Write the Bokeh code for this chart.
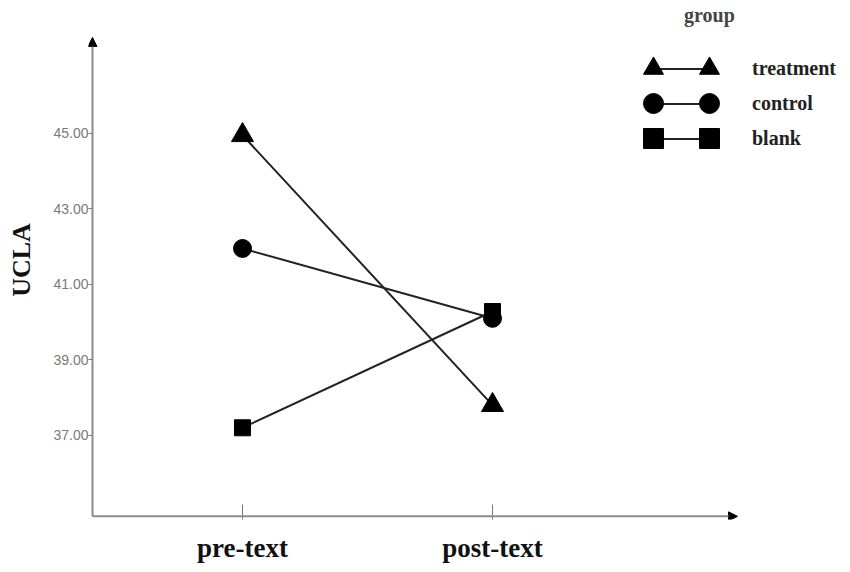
from bokeh.plotting import figure
from bokeh.models import (Legend, LegendItem, Arrow, NormalHead, NumeralTickFormatter,
                          FixedTicker, Range1d, ColumnDataSource)
from bokeh.embed import file_html
from bokeh.resources import INLINE

# ---- data ----
phases = ["pre-text", "post-text"]
phase_pos = [1, 2]
groups = ["treatment", "control", "blank"]
treatment = [44.95, 37.8]
control = [41.95, 40.1]
blank = [37.2, 40.28]
y_ticks = [37, 39, 41, 43, 45]

series = {"treatment": treatment, "control": control, "blank": blank}
markers = {"treatment": "triangle", "control": "circle", "blank": "square"}
msizes = {"treatment": 22, "control": 18, "blank": 16}

SERIF = "Liberation Serif"

# axis extents (data units) used for the arrowed axis lines
X0, X_ARROW = 0.4, 2.98
Y0, Y_ARROW = 34.854, 47.54

p = figure(width=850, height=572,
           x_range=Range1d(0.384, 3.432), y_range=Range1d(34.7705, 48.519),
           output_backend="svg", toolbar_location=None,
           min_border_left=88, min_border_right=0,
           min_border_top=0, min_border_bottom=53)
p.outline_line_color = None
p.grid.visible = False
p.background_fill_color = "white"

line_r = {}
scat_r = {}
for g in groups:
    src = ColumnDataSource(dict(x=phase_pos, y=series[g]))
    line_r[g] = p.line("x", "y", source=src, line_color="#222222", line_width=2)
    scat_r[g] = p.scatter("x", "y", source=src, marker=markers[g], size=msizes[g],
                          fill_color="black", line_color="black")

# ---- x axis ----
xa = p.xaxis[0]
xa.ticker = FixedTicker(ticks=phase_pos)
xa.major_label_overrides = {pos: lab for pos, lab in zip(phase_pos, phases)}
xa.major_label_text_font = SERIF
xa.major_label_text_font_size = "27px"
xa.major_label_text_font_style = "bold"
xa.major_label_text_color = "#111111"
xa.major_tick_in = 15
xa.major_tick_out = 0
xa.major_tick_line_color = "#777777"
xa.minor_tick_line_color = None
xa.axis_line_color = None
xa.major_label_standoff = 13

# ---- y axis ----
ya = p.yaxis[0]
ya.ticker = FixedTicker(ticks=y_ticks)
ya.formatter = NumeralTickFormatter(format="0.00")
ya.major_label_text_font = "Liberation Sans"
ya.major_label_text_font_size = "14px"
ya.major_label_text_color = "#7a7a7a"
ya.major_tick_in = 4
ya.major_tick_out = 0
ya.major_tick_line_color = "#777777"
ya.minor_tick_line_color = None
ya.axis_line_color = None
ya.major_label_standoff = 0
ya.axis_label = "UCLA"
ya.axis_label_text_font = SERIF
ya.axis_label_text_font_size = "26px"
ya.axis_label_text_font_style = "bold"
ya.axis_label_text_color = "#111111"
ya.axis_label_standoff = 14

# ---- arrowed axis lines ----
p.add_layout(Arrow(end=NormalHead(size=9, fill_color="black", line_color="black"),
                   x_start=X0, y_start=Y0, x_end=X0, y_end=Y_ARROW,
                   line_color="#8a8a8a", line_width=2))
p.add_layout(Arrow(end=NormalHead(size=9, fill_color="black", line_color="black"),
                   x_start=X0, y_start=Y0, x_end=X_ARROW, y_end=Y0,
                   line_color="#8a8a8a", line_width=2))

# ---- legend ----
common = dict(margin=0, padding=0, background_fill_alpha=0, border_line_alpha=0,
              label_text_font=SERIF, label_text_font_size="20px",
              label_text_font_style="bold", label_text_color="#222222")
leg_lines = Legend(items=[LegendItem(label=g, renderers=[line_r[g]]) for g in groups],
                   location=(565, 363), glyph_width=56, glyph_height=35, spacing=0,
                   label_standoff=43, **common)
p.add_layout(leg_lines)

row_vy = {"treatment": 426, "control": 391, "blank": 356}
for side_vx in (540, 596):
    for g in groups:
        extra = {}
        if side_vx == 596 and g == "treatment":
            extra = dict(title="group", title_text_font=SERIF, title_text_font_size="20px",
                         title_text_font_style="bold", title_text_color="#444444",
                         title_standoff=16)
        leg = Legend(items=[LegendItem(label=" ", renderers=[scat_r[g]])],
                     location=(side_vx, row_vy[g]), glyph_width=50, glyph_height=50,
                     spacing=0, label_standoff=0, label_width=0, **common, **extra)
        p.add_layout(leg)

open("out.html", "w").write(file_html(p, INLINE))
